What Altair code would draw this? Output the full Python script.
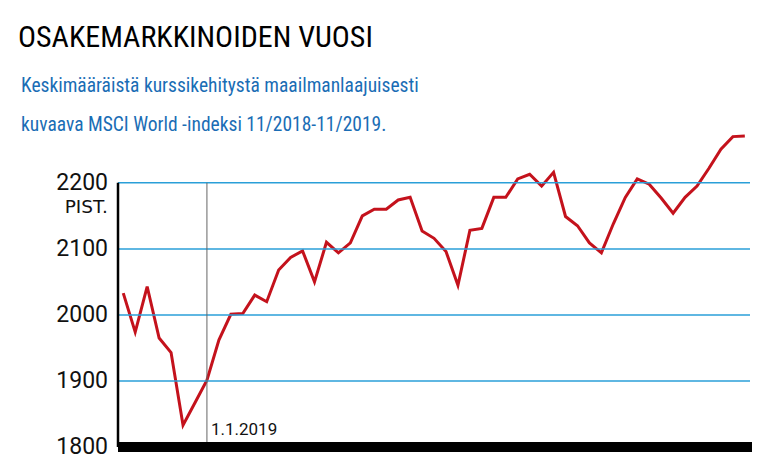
import altair as alt
import pandas as pd

title_text = ["OSAKEMARKKINOIDEN VUOSI"]
subtitle_lines = ["Keskimääräistä kurssikehitystä maailmanlaajuisesti",
                  "kuvaava MSCI World -indeksi 11/2018-11/2019."]
weeks = list(range(53))  # weekly points, 13.11.2018 -> 12.11.2019
values = [2033, 1974, 2043, 1965, 1943, 1833, 1867, 1901, 1962, 2001,
          2002, 2030, 2020, 2068, 2087, 2097, 2050, 2110, 2094, 2109,
          2150, 2160, 2160, 2174, 2178, 2127, 2116, 2096, 2045, 2128,
          2131, 2178, 2178, 2206, 2213, 2195, 2216, 2149, 2135, 2109,
          2094, 2138, 2178, 2206, 2198, 2177, 2154, 2178, 2195, 2222,
          2251, 2270, 2271]
y_ticks = [1800, 1900, 2000, 2100, 2200]
marker_week = [7]
marker_label = ["1.1.2019"]
unit_label = ["PIST."]

df = pd.DataFrame({"viikko": weeks, "arvo": values})

xs = alt.Scale(domain=[-0.44, 52.6], nice=False, zero=False)
ys = alt.Scale(domain=[1800, 2280], nice=False, zero=False)

GRID = "#2a9fd8"
RED = "#c4121c"
BLUE = "#1a6db5"
COND = "Roboto Condensed, Noto Sans Condensed, DejaVu Sans Condensed, Roboto"

line = alt.Chart(df).mark_line(color=RED, strokeWidth=3, strokeJoin="miter").encode(
    x=alt.X("viikko:Q", scale=xs, axis=None),
    y=alt.Y("arvo:Q", scale=ys, axis=None),
)

tick_df = pd.DataFrame({"v": y_ticks})
ylabels = alt.Chart(tick_df).mark_text(
    align="right", baseline="middle", font="Roboto", fontSize=23,
    color="#111").encode(
    x=alt.value(-10), y=alt.Y("v:Q", scale=ys, axis=None), text="v:N")

grid_df = pd.DataFrame({"g": y_ticks[1:]})
grid = alt.Chart(grid_df).mark_rule(color=GRID, strokeWidth=1.5).encode(
    y=alt.Y("g:Q", scale=ys, axis=None), x=alt.value(0), x2=alt.value(632))

bar = alt.Chart(pd.DataFrame({"b": [y_ticks[0]]})).mark_rule(
    color="black", strokeWidth=10).encode(
    y=alt.Y("b:Q", scale=ys, axis=None), x=alt.value(0), x2=alt.value(634))

axis_line = alt.Chart(pd.DataFrame({"a": [y_ticks[0]], "a2": [y_ticks[-1]]})).mark_rule(
    color="black", strokeWidth=2.5).encode(
    y=alt.Y("a:Q", scale=ys, axis=None), y2=alt.Y2("a2:Q"), x=alt.value(0))

mk_df = pd.DataFrame({"d": marker_week, "lo": [y_ticks[0]],
                      "hi": [y_ticks[-1]], "txt": marker_label, "ty": [1826]})
marker = alt.Chart(mk_df).mark_rule(color="#666", strokeWidth=1).encode(
    x=alt.X("d:Q", scale=xs, axis=None),
    y=alt.Y("lo:Q", scale=ys, axis=None), y2=alt.Y2("hi:Q"))
marker_txt = alt.Chart(mk_df).mark_text(
    align="left", baseline="middle", dx=4, font="Roboto", fontSize=17,
    color="#111").encode(
    x=alt.X("d:Q", scale=xs, axis=None),
    y=alt.Y("ty:Q", scale=ys, axis=None), text="txt:N")

unit = alt.Chart(pd.DataFrame({"u": unit_label, "uy": [2163]})).mark_text(
    align="right", baseline="middle", font="DejaVu Sans", fontSize=18.5,
    color="#111").encode(
    x=alt.value(-10), y=alt.Y("uy:Q", scale=ys, axis=None), text="u:N")

title = alt.Chart(pd.DataFrame({"t": title_text})).mark_text(
    align="left", baseline="alphabetic", font=COND,
    fontSize=30, color="black").encode(
    x=alt.value(-100), y=alt.value(-83), text="t:N")

sub1 = alt.Chart(pd.DataFrame({"s": [subtitle_lines[0]]})).mark_text(
    align="left", baseline="alphabetic", font=COND,
    fontSize=19.5, color=BLUE).encode(
    x=alt.value(-97), y=alt.value(-38), text="s:N")
sub2 = alt.Chart(pd.DataFrame({"s": [subtitle_lines[1]]})).mark_text(
    align="left", baseline="alphabetic", font=COND,
    fontSize=19.5, color=BLUE).encode(
    x=alt.value(-97), y=alt.value(1), text="s:N")

chart = alt.layer(line, grid, marker, axis_line, bar, marker_txt, unit, ylabels,
                  title, sub1, sub2).properties(
    width=634, height=317,
    autosize=alt.AutoSizeParams(type="none"),
    padding={"left": 110, "top": 122, "right": 10, "bottom": 22},
    background="white",
).configure_view(stroke=None)

chart.save("out.html", embed_options={"renderer": "svg", "actions": False})
